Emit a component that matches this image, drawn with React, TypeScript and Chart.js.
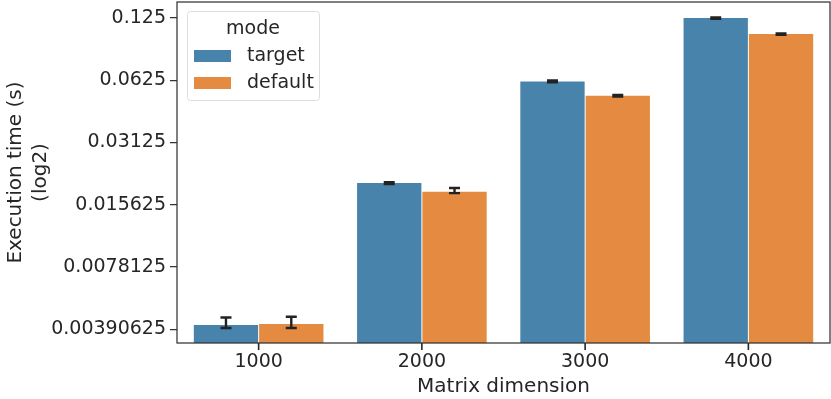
import React, { useEffect, useRef } from "react";
import { Chart, registerables } from "chart.js";

Chart.register(...registerables);

const categories = ["1000", "2000", "3000", "4000"];
const seriesNames = ["target", "default"];
const targetValues = [0.0041, 0.0199, 0.0616, 0.1246];
const defaultValues = [0.00415, 0.01805, 0.0525, 0.1043];
const targetErrLow = [0.00397, 0.0197, 0.061, 0.1236];
const targetErrHigh = [0.00446, 0.0201, 0.0623, 0.1256];
const defaultErrLow = [0.00397, 0.01779, 0.052, 0.1035];
const defaultErrHigh = [0.0045, 0.01883, 0.053, 0.1051];
const yTicks = [0.00390625, 0.0078125, 0.015625, 0.03125, 0.0625, 0.125];
const yTickLabels = ["0.00390625", "0.0078125", "0.015625", "0.03125", "0.0625", "0.125"];

const BLUE = "#4783ab";
const ORANGE = "#e58b41";
const FONT = "'DejaVu Sans', sans-serif";
const TEXT = "#262626";

const errorBarPlugin = {
  id: "errorBars",
  afterDatasetsDraw(chart: any) {
    const ctx = chart.ctx;
    const y = chart.scales.y;
    const errs = [
      [targetErrLow, targetErrHigh],
      [defaultErrLow, defaultErrHigh],
    ];
    ctx.save();
    ctx.strokeStyle = "#222222";
    ctx.lineWidth = 2.4;
    chart.data.datasets.forEach((ds: any, di: number) => {
      const meta = chart.getDatasetMeta(di);
      meta.data.forEach((bar: any, i: number) => {
        const x = bar.x;
        const lo = y.getPixelForValue(errs[di][0][i]);
        const hi = y.getPixelForValue(errs[di][1][i]);
        const cap = 5.5;
        ctx.beginPath();
        ctx.moveTo(x, lo);
        ctx.lineTo(x, hi);
        ctx.moveTo(x - cap, lo);
        ctx.lineTo(x + cap, lo);
        ctx.moveTo(x - cap, hi);
        ctx.lineTo(x + cap, hi);
        ctx.stroke();
      });
    });
    ctx.restore();
  },
};

const framePlugin = {
  id: "frame",
  afterDraw(chart: any) {
    const { ctx, chartArea: a } = chart;
    ctx.save();
    ctx.strokeStyle = "#333333";
    ctx.lineWidth = 1.25;
    ctx.strokeRect(a.left, a.top, a.right - a.left, a.bottom - a.top);

    // x tick marks at category centres
    const xs = chart.scales.x;
    ctx.lineWidth = 1.6;
    ctx.strokeStyle = "#262626";
    ctx.beginPath();
    for (let i = 0; i < categories.length; i++) {
      const px = xs.getPixelForValue(i);
      ctx.moveTo(px, a.bottom);
      ctx.lineTo(px, a.bottom + 7);
    }
    ctx.stroke();

    // legend
    const lx = 187.5, ly = 11.5, lw = 132, lh = 89;
    ctx.fillStyle = "rgba(255,255,255,0.8)";
    ctx.strokeStyle = "#dddddd";
    ctx.lineWidth = 1;
    ctx.beginPath();
    (ctx as any).roundRect(lx, ly, lw, lh, 3);
    ctx.fill();
    ctx.stroke();
    ctx.fillStyle = TEXT;
    ctx.font = `19px ${FONT}`;
    ctx.textAlign = "center";
    ctx.textBaseline = "middle";
    ctx.fillText("mode", 253, 29);
    ctx.textAlign = "left";
    const colors = [BLUE, ORANGE];
    const ys = [56, 83];
    seriesNames.forEach((n, i) => {
      ctx.fillStyle = colors[i];
      ctx.fillRect(194, ys[i] - 6, 37, 12);
      ctx.fillStyle = TEXT;
      ctx.fillText(n, 247, ys[i]);
    });
    ctx.restore();
  },
};

export default function App() {
  const ref = useRef<HTMLCanvasElement | null>(null);
  useEffect(() => {
    if (!ref.current) return;
    const chart = new Chart(ref.current, {
      type: "bar",
      data: {
        labels: categories,
        datasets: [
          { label: seriesNames[0], data: targetValues, backgroundColor: BLUE, categoryPercentage: 0.8, barPercentage: 0.985 },
          { label: seriesNames[1], data: defaultValues, backgroundColor: ORANGE, categoryPercentage: 0.8, barPercentage: 0.985 },
        ],
      },
      options: {
        animation: false,
        responsive: false,
        maintainAspectRatio: false,
        layout: { padding: { top: 2, right: 1, left: 0, bottom: 0 } },
        plugins: { legend: { display: false }, tooltip: { enabled: false } },
        scales: {
          x: {
            grid: { display: true, drawOnChartArea: false, drawTicks: true, tickLength: 7, color: "rgba(0,0,0,0)", lineWidth: 1.25 },
            border: { display: false },
            ticks: { color: TEXT, font: { family: FONT, size: 19 }, padding: 1 },
            title: { display: true, text: "Matrix dimension", color: TEXT, font: { family: FONT, size: 20 }, padding: { top: 0, bottom: 0 } },
            afterFit(scale: any) {
              scale.height = 56;
              scale.paddingLeft = 0;
              scale.paddingRight = 0;
            },
          },
          y: {
            type: "logarithmic",
            min: 0.00336,
            max: 0.149,
            grid: { display: true, drawOnChartArea: false, drawTicks: true, tickLength: 7, color: "#333333", lineWidth: 1.25 },
            border: { display: false },
            afterBuildTicks(scale: any) {
              scale.ticks = yTicks.map((v) => ({ value: v }));
            },
            ticks: {
              color: TEXT,
              font: { family: FONT, size: 19 },
              padding: 4,
              autoSkip: false,
              callback: (v: any) => {
                const i = yTicks.indexOf(Number(v));
                return i >= 0 ? yTickLabels[i] : "";
              },
            },
            title: {
              display: true,
              text: ["Execution time (s)", "(log2)"],
              color: TEXT,
              font: { family: FONT, size: 20, lineHeight: 1.25 },
              padding: { top: 3, bottom: 0 },
            },
            afterFit(scale: any) {
              scale.width = 177;
              scale.paddingTop = 0;
              scale.paddingBottom = 0;
            },
          },
        },
      },
      plugins: [errorBarPlugin, framePlugin],
    });
    return () => chart.destroy();
  }, []);
  return (
    <div style={{ position: "fixed", left: 0, top: 0, width: 831, height: 399, background: "#fff" }}>
      <canvas ref={ref} width={831} height={399} style={{ width: 831, height: 399 }} />
    </div>
  );
}
